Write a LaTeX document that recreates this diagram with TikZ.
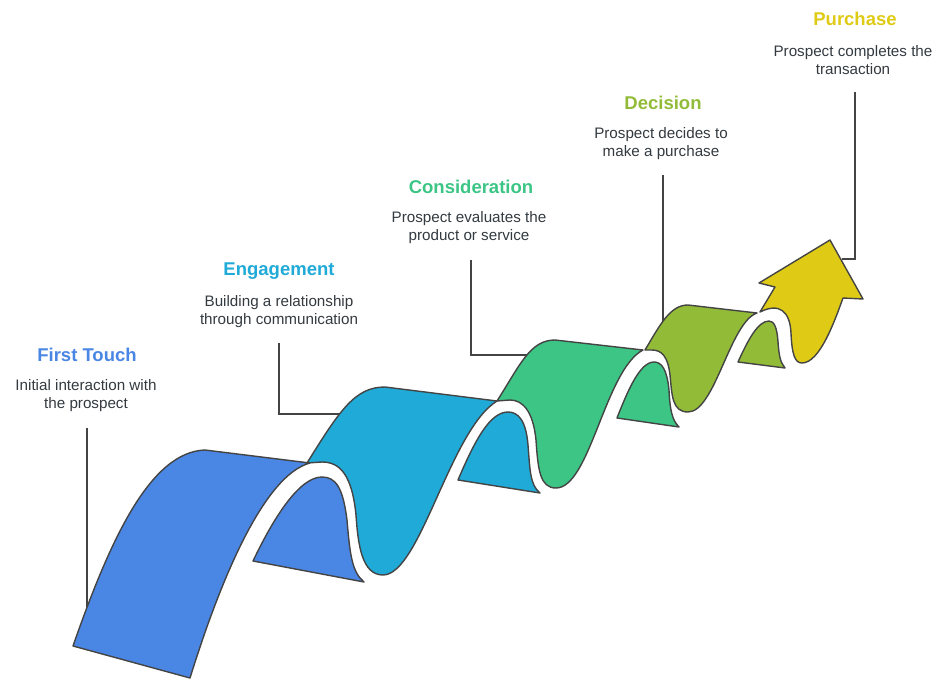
\documentclass[tikz,border=0pt]{standalone}
\usepackage{fontspec}
\setmainfont{Liberation Sans}
\definecolor{cblue}{HTML}{4A86E3}
\definecolor{cteal}{HTML}{1FAAD8}
\definecolor{cgreen}{HTML}{3CC585}
\definecolor{colive}{HTML}{92BB38}
\definecolor{cyellow}{HTML}{DFCB16}
\definecolor{edge}{HTML}{444444}
\definecolor{txt}{HTML}{333A40}
\tikzset{
  band/.style={draw=edge,line width=1.4pt,line join=round},
  leader/.style={draw=edge,line width=1.3pt},
  stagetitle/.style={font=\bfseries\fontsize{18.5}{22}\selectfont},
  stagetext/.style={font=\fontsize{15.2}{18}\selectfont,text=txt,align=center}
}
\begin{document}
\begin{tikzpicture}[x=1pt,y=-1pt]
   \useasboundingbox (0,0) rectangle (946,688);
   % leader lines
   \draw[leader] (87,428)--(87,607);
   \draw[leader] (279,343)--(279,414)--(342,414);
   \draw[leader] (471,260)--(471,355)--(530,355);
   \draw[leader] (663,175)--(663,322);
   \draw[leader] (855,92)--(855,259)--(842,259);
   % back flaps
   \filldraw[band,fill=cblue](253,561)--(364,582) .. controls (352,572) and (350,555) .. (347,520)
        .. controls (343,488) and (336,477) .. (322,477) .. controls (300,477) and (275,515) .. (253,561)--cycle;
   \filldraw[band,fill=cteal](458,480)--(540,493) .. controls (530,485) and (530,470) .. (528,445)
        .. controls (526,420) and (518,412) .. (508,412) .. controls (490,412) and (475,440) .. (458,480)--cycle;
   \filldraw[band,fill=cgreen](617,418)--(679,427) .. controls (672,420) and (670,410) .. (669,390)
        .. controls (667,370) and (662,362) .. (654,362) .. controls (640,362) and (628,390) .. (617,418)--cycle;
   \filldraw[band,fill=colive](738,362)--(785,368) .. controls (780,362) and (779,355) .. (778,342)
        .. controls (777,327) and (774,321) .. (769,321) .. controls (758,321) and (748,340) .. (738,362)--cycle;
   % front faces
   \filldraw[band,fill=cblue](73,646) .. controls (110,540) and (150,452) .. (205,450)--(310,463)
        .. controls (265,475) and (222,575) .. (190,678)--cycle;
   \filldraw[band,fill=cteal](307,463) .. controls (340,410) and (355,387) .. (385,387)--(497,401)
        .. controls (450,430) and (420,575) .. (383,575) .. controls (362,575) and (358,545) .. (356,515)
        .. controls (352,475) and (340,462) .. (322,462)--cycle;
   \filldraw[band,fill=cgreen](497,401) .. controls (520,365) and (530,340) .. (555,340)--(643,350)
        .. controls (605,370) and (590,488) .. (556,488) .. controls (540,488) and (538,470) .. (536,440)
        .. controls (533,410) and (522,400) .. (510,400)--cycle;
   \filldraw[band,fill=colive](645,350) .. controls (660,325) and (670,305) .. (688,305)--(757,313)
        .. controls (730,322) and (715,412) .. (688,412) .. controls (672,412) and (672,395) .. (670,375)
        .. controls (668,357) and (662,350) .. (652,350)--cycle;
   \filldraw[band,fill=cyellow](760,312) .. controls (780,302) and (790,312) .. (791,333)
        .. controls (792,355) and (795,363) .. (802,363) .. controls (820,363) and (835,320) .. (843,298)
        --(863,299)--(830,240)--(759,283)--(775,287)--cycle;
   % labels
   \node[stagetitle,text=cblue]   (t1) at (87,355) {First Touch};
   \node[stagetext]               (d1) at (86,396) {Initial interaction with\\the prospect};
   \node[stagetitle,text=cteal]   (t2) at (279,271) {Engagement};
   \node[stagetext]               (d2) at (279,312) {Building a relationship\\through communication};
   \node[stagetitle,text=cgreen]  (t3) at (471,187) {Consideration};
   \node[stagetext]               (d3) at (469,228) {Prospect evaluates the\\product or service};
   \node[stagetitle,text=colive]  (t4) at (663,103) {Decision};
   \node[stagetext]               (d4) at (661,144) {Prospect decides to\\make a purchase};
   \node[stagetitle,text=cyellow] (t5) at (855,19) {Purchase};
   \node[stagetext]               (d5) at (853,60) {Prospect completes the\\transaction};
\end{tikzpicture}
\end{document}
